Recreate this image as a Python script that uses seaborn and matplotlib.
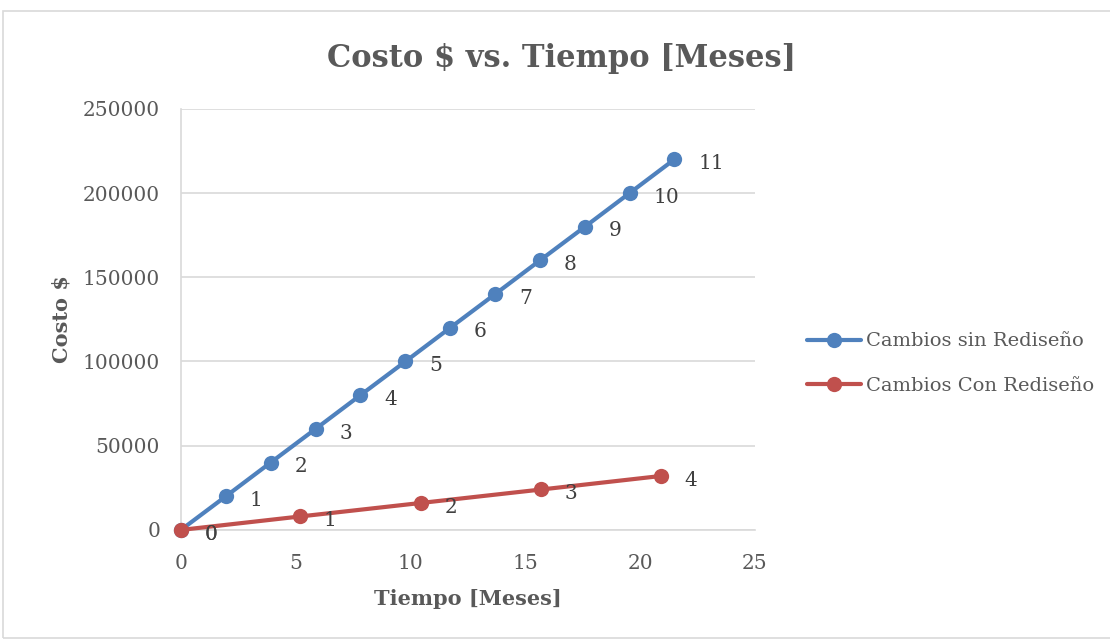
import numpy as np
import pandas as pd
import matplotlib
matplotlib.use("Agg")
import matplotlib.pyplot as plt
import seaborn as sns

# datos
tiempo_sin = [0, 1.96, 3.91, 5.87, 7.82, 9.78, 11.73, 13.69, 15.64, 17.6, 19.55, 21.5]
costo_sin = [0, 20000, 40000, 60000, 80000, 100000, 120000, 140000, 160000,
             180000, 200000, 220000]
etiq_sin = [str(i) for i in range(12)]

tiempo_con = [0, 5.2, 10.45, 15.7, 20.9]
costo_con = [0, 8000, 16000, 24000, 32000]
etiq_con = [str(i) for i in range(5)]

AZUL = "#4F81BD"
ROJO = "#C0504D"
GRIS = "#595959"

sns.set_style("white")
plt.rcParams["font.family"] = ["DejaVu Serif"]

df = pd.concat([
    pd.DataFrame({"t": tiempo_sin, "c": costo_sin, "lab": etiq_sin,
                  "serie": "Cambios sin Rediseño"}),
    pd.DataFrame({"t": tiempo_con, "c": costo_con, "lab": etiq_con,
                  "serie": "Cambios Con Rediseño"}),
], ignore_index=True)

fig = plt.figure(figsize=(11.1, 6.4), dpi=100)
fig.patches.append(plt.Rectangle((0.003, 0.003), 1.2, 0.98, transform=fig.transFigure,
                                 fill=False, edgecolor="#D9D9D9", lw=1.2))
ax = fig.add_axes([0.163, 0.172, 0.517, 0.658])

sns.lineplot(data=df, x="t", y="c", hue="serie", ax=ax,
             palette={"Cambios sin Rediseño": AZUL, "Cambios Con Rediseño": ROJO},
             marker="o", markersize=11, markeredgewidth=0, linewidth=3,
             sort=False, estimator=None)
for ln in ax.lines:
    ln.set_clip_on(False)
    ln.set_zorder(3)

for _, r in df.iterrows():
    ax.annotate(r["lab"], (r["t"], r["c"]), xytext=(17, -3), textcoords="offset points",
                ha="left", va="center", fontsize=14.5, color="#404040")

ax.set_xlim(0, 25)
ax.set_ylim(0, 250000)
ax.set_xticks(range(0, 26, 5))
ax.set_yticks(range(0, 250001, 50000))
ax.yaxis.grid(True, color="#D9D9D9", lw=1.2)
ax.tick_params(axis="both", labelsize=14.5, labelcolor=GRIS, color="#D9D9D9",
               length=5, width=1.2)
ax.tick_params(axis="x", pad=12)
ax.tick_params(axis="y", pad=10)
for s in ["top", "right"]:
    ax.spines[s].set_visible(False)
for s in ["left", "bottom"]:
    ax.spines[s].set_color("#D9D9D9")
    ax.spines[s].set_linewidth(1.2)

ax.set_xlabel("Tiempo [Meses]", fontsize=15, fontweight="bold", color=GRIS, labelpad=12)
ax.set_ylabel("Costo $", fontsize=15, fontweight="bold", color=GRIS, labelpad=8)
ax.set_title("Costo $ vs. Tiempo [Meses]", fontsize=22, fontweight="bold",
             color=GRIS, x=0.664, pad=30)

leg = ax.legend(loc="center left", bbox_to_anchor=(1.06, 0.395), frameon=False,
                fontsize=14, handlelength=2.8, labelspacing=1.35, handletextpad=0.25)
for t in leg.get_texts():
    t.set_color(GRIS)

fig.savefig("out.png", dpi=100)
